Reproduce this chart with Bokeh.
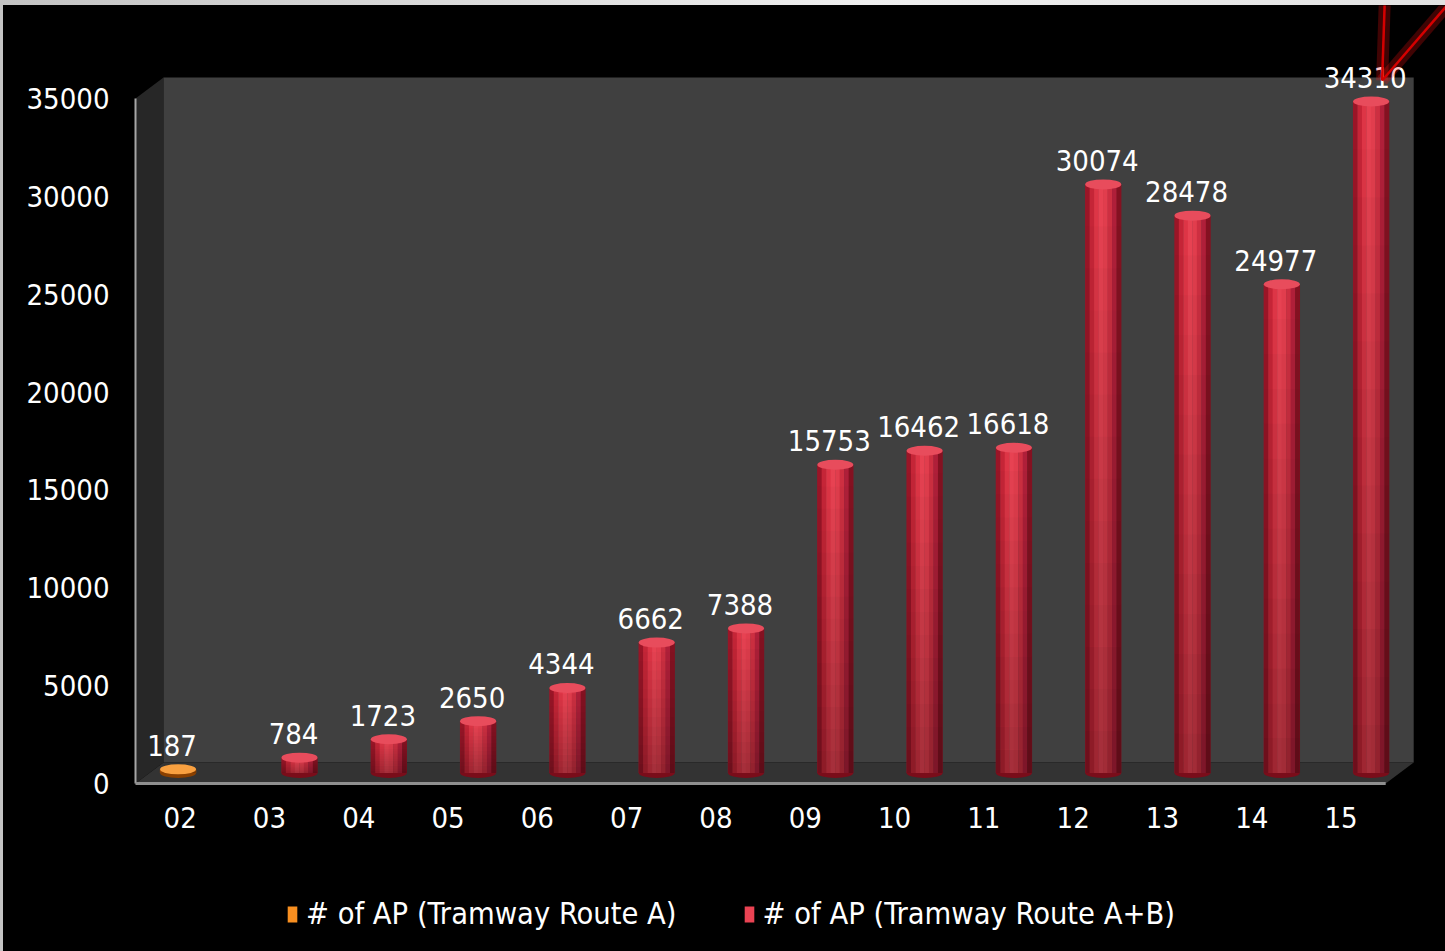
from bokeh.plotting import figure
from bokeh.models import Range1d, FixedTicker, Legend, LegendItem, GlobalInlineStyleSheet
from bokeh.core.properties import value
from bokeh.embed import file_html
from bokeh.resources import INLINE

# ---------------- data ----------------
categories = ["02", "03", "04", "05", "06", "07", "08", "09", "10", "11", "12", "13", "14", "15"]
route_a = [187, None, None, None, None, None, None, None, None, None, None, None, None, None]
route_ab = [None, 784, 1723, 2650, 4344, 6662, 7388, 15753, 16462, 16618, 30074, 28478, 24977, 34310]
y_ticks = [0, 5000, 10000, 15000, 20000, 25000, 30000, 35000]
series_names = ["# of AP (Tramway Route A)", "# of AP (Tramway Route A+B)"]

# ---------------- style / geometry ----------------
FONT = "DejaVu Sans Condensed"
FS = "29px"
LEG_FS = "30.5px"
UPP = 35000 / 685.0          # value units per screen pixel
CAT_PX = 89.3                 # pixels per category
DX = 28 / CAT_PX              # depth offset (x, data units)
DY = 21 * UPP                 # depth offset (y, data units)
BAR_W = 36 / CAT_PX
SLOT = 0.18
N = len(categories)
YMAX = y_ticks[-1]

OFF_X, OFF_Y = 3, 5           # page strip around the chart
W, H = 1445 - OFF_X, 951 - OFF_Y
LEFT = 133 - OFF_X
ZERO_PX = 783 - OFF_Y

p = figure(width=W, height=H, output_backend="svg", toolbar_location=None,
           x_range=Range1d(-0.5 - 2 / CAT_PX, -0.5 - 2 / CAT_PX + (W - LEFT) / CAT_PX),
           y_range=Range1d(-(H - ZERO_PX) * UPP, ZERO_PX * UPP),
           min_border_left=LEFT, min_border_right=0, min_border_top=0,
           min_border_bottom=0,
           background_fill_color="black", border_fill_color="black",
           outline_line_color=None)
p.margin = (OFF_Y, 0, 0, OFF_X)
p.styles = {"background-color": "black"}
p.stylesheets = [GlobalInlineStyleSheet(css="html, body { margin: 0; background: linear-gradient(to right, #c4c4c4, #efefef 60%, #e2e2e2); }")]
p.xgrid.visible = False
p.ygrid.visible = False
p.xaxis.visible = False

# ---------------- 3D box ----------------
x0, x1 = -0.5, N - 0.5
p.patch([x0, x0, x0 + DX, x0 + DX], [0, YMAX, YMAX + DY, DY], color="#272727", line_color=None)
p.patch([x0 + DX, x1 + DX, x1 + DX, x0 + DX], [DY, DY, YMAX + DY, YMAX + DY], color="#404040", line_color=None)
p.patch([x0, x1, x1 + DX, x0 + DX], [0, 0, DY, DY], color="#333333", line_color=None)
p.line([x0, x0], [0, YMAX], line_color="#a6a6a6", line_width=2)
p.line([x0, x1], [0, 0], line_color="#8f8f8f", line_width=3)

# ---------------- category labels (x axis) ----------------
p.text(x=list(range(N)), y=[0] * N, text=categories, y_offset=34,
       text_align="center", text_baseline="middle", text_color="white",
       text_font=value(FONT), text_font_size=FS)

# ---------------- cylinders ----------------
RED_STRIPS = ["#9c1628", "#c82638", "#e03647", "#ea4353", "#e43e4e", "#d03042", "#b2203a", "#861222"]
ORANGE_STRIPS = ["#b85400", "#e06e06", "#f08214", "#f88f20", "#f08819", "#e07510", "#c86200", "#9c4a00"]
NSTRIP = len(RED_STRIPS)
NBAND = 14


def cylinders(values, slot, strips, cap_color, base_color):
    xs, vs = [], []
    for i, v in enumerate(values):
        if v is not None:
            xs.append(i + slot + DX / 2)
            vs.append(v)
    base = DY / 2
    p.ellipse(x=xs, y=[base] * len(xs), width=BAR_W, height=10, height_units="screen",
              fill_color=base_color, line_color=None)
    sx, st, sc = [], [], []
    for xc, v in zip(xs, vs):
        for j in range(NSTRIP):
            sx.append(xc - BAR_W / 2 + (j + 0.5) * BAR_W / NSTRIP)
            st.append(v + base)
            sc.append(strips[j])
    body = p.vbar(x=sx, top=st, bottom=base, width=BAR_W / NSTRIP * 1.08, fill_color=sc, line_color=None)
    bx, bb, bt, ba = [], [], [], []
    for xc, v in zip(xs, vs):
        for k in range(NBAND):
            bx.append(xc)
            bb.append(base + v * k / NBAND)
            bt.append(base + v * (k + 1) / NBAND)
            ba.append(0.30 * (1 - (k + 0.5) / NBAND))
    p.vbar(x=bx, top=bt, bottom=bb, width=BAR_W, fill_color="black", fill_alpha=ba, line_color=None)
    p.ellipse(x=xs, y=[v + base for v in vs], width=BAR_W, height=10, height_units="screen",
              fill_color=cap_color, line_color=None)
    p.text(x=xs, y=[v + base for v in vs], text=[str(v) for v in vs],
           x_offset=-6, y_offset=-24, text_align="center", text_baseline="alphabetic",
           text_color="white", text_font=value(FONT), text_font_size=FS)
    return xs, vs, body


_, _, body_a = cylinders(route_a, -SLOT, ORANGE_STRIPS, "#f8a040", "#8a4000")
ab_x, ab_v, body_ab = cylinders(route_ab, SLOT, RED_STRIPS, "#e84c5c", "#7a0d1a")

# ---------------- pointer arrow (annotation) ----------------
tip_x = ab_x[-1] + 11 / CAT_PX
tip_y = ab_v[-1] + DY / 2 + 21 * UPP
ends = [(3, 90), (70, 81)]
for lw, la, lc in [(12, 0.25, "#ff1010"), (2.5, 1.0, "#d40000")]:
    p.segment(x0=[tip_x] * 2, y0=[tip_y] * 2,
              x1=[tip_x + ex / CAT_PX for ex, ey in ends],
              y1=[tip_y + ey * UPP for ex, ey in ends],
              line_color=lc, line_width=lw, line_alpha=la)

# ---------------- y axis ----------------
p.yaxis.ticker = FixedTicker(ticks=y_ticks)
ax = p.yaxis[0]
ax.axis_line_color = None
ax.major_tick_line_color = None
ax.minor_tick_line_color = None
ax.major_label_text_color = "white"
ax.major_label_text_font = FONT
ax.major_label_text_font_size = FS
ax.major_label_standoff = 18

# ---------------- legend ----------------
legend = Legend(items=[LegendItem(label=series_names[0], renderers=[body_a], index=3),
                       LegendItem(label=series_names[1], renderers=[body_ab], index=3)],
                orientation="horizontal", location=(287 - 133 - 1, 20),
                background_fill_alpha=0, border_line_color=None,
                label_text_color="white", label_text_font=FONT, label_text_font_size=LEG_FS,
                glyph_width=12, glyph_height=20, label_standoff=8,
                spacing=66, padding=0, margin=0)
p.add_layout(legend)

open("out.html", "w").write(file_html(p, INLINE))
